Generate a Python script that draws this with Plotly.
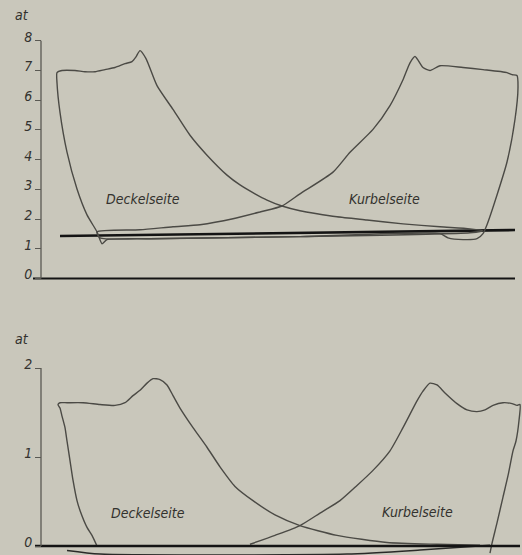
import plotly.graph_objects as go

# ---------------- data (x: stroke position, y: pressure in at) ----------------
# upper diagram (high pressure side), y ticks 0..8 at
top_ticks = [0, 1, 2, 3, 4, 5, 6, 7, 8]
top_deckel_x = [61, 56, 46, 36, 26, 19, 16, 16, 21, 34, 44, 54, 64, 74, 84, 91, 95, 99,
                105, 116, 132, 149, 166, 186, 199, 214, 226, 241, 259, 276, 296, 326, 362,
                399, 429, 442, 429, 259, 109, 66, 61]
top_deckel_y = [1.17, 1.57, 2.14, 3.01, 4.25, 5.59, 6.59, 6.93, 7.00, 7.00, 6.96, 6.96, 7.03,
                7.10, 7.23, 7.30, 7.46, 7.67, 7.40, 6.49, 5.69, 4.82, 4.15, 3.48, 3.15, 2.85,
                2.64, 2.44, 2.28, 2.18, 2.08, 1.97, 1.84, 1.74, 1.67, 1.61, 1.54, 1.41, 1.34,
                1.31, 1.17]
top_kurbel_x = [399, 407, 422, 436, 442, 446, 456, 466, 474, 477, 476, 471, 466, 442, 422,
                399, 389, 382, 374, 369, 362, 349, 332, 309, 292, 259, 241, 219, 192, 159,
                132, 99, 56, 59, 109, 259, 399]
top_kurbel_y = [1.51, 1.37, 1.31, 1.34, 1.51, 1.81, 2.81, 3.92, 5.36, 6.43, 6.83, 6.86, 6.93,
                7.03, 7.10, 7.16, 7.00, 7.10, 7.47, 7.26, 6.69, 5.82, 5.02, 4.25, 3.58, 2.85,
                2.44, 2.24, 2.01, 1.81, 1.74, 1.64, 1.57, 1.37, 1.34, 1.41, 1.51]
top_atm_x = [19, 474]
top_atm_y = [1.43, 1.63]
top_zero_x = [-8, 474]
top_zero_y = [0, 0]

# lower diagram (low pressure side), y ticks 0..2 at
bot_ticks = [0, 1, 2]
bot_deckel_x = [56, 51, 46, 39, 36, 32, 29, 26, 24, 21, 19, 17, 19, 26, 42, 59, 74, 84, 92,
                99, 106, 112, 119, 126, 132, 139, 152, 166, 179, 194, 212, 234, 259, 296, 346,
                396, 439]
bot_deckel_y = [0.0, 0.12, 0.21, 0.40, 0.51, 0.74, 0.96, 1.18, 1.33, 1.46, 1.55, 1.59, 1.61,
                1.61, 1.61, 1.59, 1.58, 1.61, 1.69, 1.75, 1.83, 1.88, 1.87, 1.81, 1.69, 1.55,
                1.33, 1.11, 0.89, 0.67, 0.51, 0.35, 0.23, 0.12, 0.04, 0.02, 0.01]
bot_kurbel_x = [209, 234, 259, 279, 299, 316, 332, 349, 362, 376, 382, 389, 396, 404, 416,
                426, 436, 444, 452, 462, 471, 476, 479, 478, 475, 472, 467, 462, 456, 451, 449]
bot_kurbel_y = [0.02, 0.12, 0.23, 0.37, 0.51, 0.68, 0.85, 1.07, 1.33, 1.63, 1.74, 1.83, 1.81,
                1.72, 1.60, 1.53, 1.51, 1.53, 1.58, 1.61, 1.60, 1.58, 1.59, 1.41, 1.18, 1.07,
                0.79, 0.55, 0.26, 0.03, -0.08]
bot_low_x = [26, 59, 306, 379, 449]
bot_low_y = [-0.05, -0.09, -0.09, -0.045, 0.01]
bot_zero_x = [-6, 479]
bot_zero_y = [0, 0]

labels = ["Deckelseite", "Kurbelseite"]
top_label_x = [102, 343]
top_label_y = [2.68, 2.68]
bot_label_x = [107, 376]
bot_label_y = [0.37, 0.38]

# ---------------- styling ----------------
W, H = 522, 555
BG = "#c9c7bb"
CURVE = "#4b4a45"
INK = "#141414"
TXT = "#33322e"
FONT = "Liberation Sans Narrow, DejaVu Sans Condensed, DejaVu Sans, sans-serif"

AX_PX = 41          # pixel column of the vertical axes
X_RANGE = [-AX_PX, W - AX_PX]


def domain(px_zero, px_per_unit, rng):
    lo = px_zero - rng[0] * px_per_unit
    hi = px_zero - rng[1] * px_per_unit
    return [max(0.0, 1 - lo / H), min(1.0, 1 - hi / H)]


TOP_RANGE = [-0.5, 8.5]
BOT_RANGE = [-0.1, 2.1]
top_dom = domain(277, 29.875, TOP_RANGE)
bot_dom = domain(546, 89.5, BOT_RANGE)

fig = go.Figure()


def line(x, y, xa, ya, color=CURVE, width=1.4):
    fig.add_trace(go.Scatter(x=x, y=y, xaxis=xa, yaxis=ya, mode="lines",
                             line=dict(color=color, width=width, shape="spline",
                                       smoothing=0.6),
                             hoverinfo="skip", showlegend=False))


def straight(x, y, xa, ya, color=INK, width=2.5):
    fig.add_trace(go.Scatter(x=x, y=y, xaxis=xa, yaxis=ya, mode="lines",
                             line=dict(color=color, width=width),
                             hoverinfo="skip", showlegend=False))


# upper diagram
straight(top_zero_x, top_zero_y, "x", "y", width=1.8)
straight(top_atm_x, top_atm_y, "x", "y", width=2.6)
line(top_deckel_x, top_deckel_y, "x", "y")
line(top_kurbel_x, top_kurbel_y, "x", "y")

# lower diagram
line(bot_low_x, bot_low_y, "x2", "y2", color="#2a2a28", width=1.5)
line(bot_deckel_x, bot_deckel_y, "x2", "y2")
line(bot_kurbel_x, bot_kurbel_y, "x2", "y2")
straight(bot_zero_x, bot_zero_y, "x2", "y2", width=2.6)

# vertical axis lines
fig.add_shape(type="line", xref="x", yref="y", x0=0, x1=0, y0=top_ticks[0], y1=top_ticks[-1],
              line=dict(color="#5a5953", width=1.3))
fig.add_shape(type="line", xref="x2", yref="y2", x0=0, x1=0, y0=bot_ticks[0], y1=bot_ticks[-1],
              line=dict(color="#5a5953", width=1.3))

for lx, ly, t in zip(top_label_x, top_label_y, labels):
    fig.add_annotation(x=lx, y=ly, xref="x", yref="y", text="<i>" + t + "</i>",
                       showarrow=False, xanchor="center", yanchor="middle",
                       font=dict(family=FONT, size=14, color=TXT))
for lx, ly, t in zip(bot_label_x, bot_label_y, labels):
    fig.add_annotation(x=lx, y=ly, xref="x2", yref="y2", text="<i>" + t + "</i>",
                       showarrow=False, xanchor="center", yanchor="middle",
                       font=dict(family=FONT, size=14, color=TXT))

fig.add_annotation(x=22 / W, y=1 - 12 / H, xref="paper", yref="paper", text="<i>at</i>",
                   showarrow=False, xanchor="center", yanchor="middle",
                   font=dict(family=FONT, size=14, color=TXT))
fig.add_annotation(x=22 / W, y=1 - 338 / H, xref="paper", yref="paper", text="<i>at</i>",
                   showarrow=False, xanchor="center", yanchor="middle",
                   font=dict(family=FONT, size=14, color=TXT))

yax = dict(showgrid=False, zeroline=False, showline=False, ticks="outside", ticklen=6,
           tickwidth=1.2, tickcolor="#5a5953", anchor="free", position=AX_PX / W,
           ticklabelshift=-4,
           tickfont=dict(family=FONT, size=14, color=TXT, style="italic"))
xax = dict(range=X_RANGE, domain=[0, 1], visible=False, showgrid=False, zeroline=False)

fig.update_layout(
    width=W, height=H,
    margin=dict(l=0, r=0, t=0, b=0),
    paper_bgcolor=BG, plot_bgcolor=BG,
    xaxis=dict(**xax, anchor="y"),
    xaxis2=dict(**xax, anchor="y2"),
    yaxis=dict(**yax, range=TOP_RANGE, domain=top_dom, tickvals=top_ticks),
    yaxis2=dict(**yax, range=BOT_RANGE, domain=bot_dom, tickvals=bot_ticks),
    showlegend=False,
)

# remove the browser's default 8px page margin so the figure fills the window
fig.write_html(
    "out.html",
    config={"displayModeBar": False},
    post_script="document.body.style.margin='0';"
                "document.body.style.overflow='hidden';"
                "document.body.style.background='" + BG + "';",
)
